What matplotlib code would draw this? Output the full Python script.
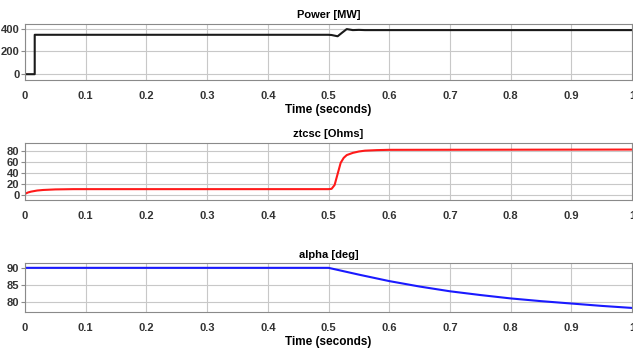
import matplotlib.pyplot as plt

plt.rcParams['font.family'] = ['Liberation Sans Narrow', 'Liberation Sans', 'DejaVu Sans']

# Power [MW]
t_power = [0, 0.016, 0.016, 0.5, 0.505, 0.515, 0.522, 0.53, 0.54, 0.55, 0.56, 1.0]
power = [0, 0, 345, 345, 343, 332, 362, 395, 386, 388, 386, 386]

# ztcsc [Ohms]
t_z = [0, 0.005, 0.01, 0.02, 0.03, 0.05, 0.08, 0.5, 0.505, 0.51, 0.515, 0.52,
       0.525, 0.53, 0.54, 0.55, 0.56, 0.58, 0.6, 1.0]
ztcsc = [2, 4.5, 6, 8, 9, 10, 10.5, 10.5, 11, 18, 38, 58,
         67, 72, 76, 78.5, 80, 81, 81.5, 82]

# alpha [deg]
t_alpha = [0, 0.5, 0.55, 0.6, 0.65, 0.7, 0.75, 0.8, 0.85, 0.9, 0.95, 1.0]
alpha = [90, 90, 88, 86.1, 84.5, 83.1, 82, 81, 80.2, 79.5, 78.8, 78.2]

xticks = [0, 0.1, 0.2, 0.3, 0.4, 0.5, 0.6, 0.7, 0.8, 0.9, 1]
xticklabels = ['0', '0.1', '0.2', '0.3', '0.4', '0.5', '0.6', '0.7', '0.8', '0.9', '1']

fig = plt.figure(figsize=(6.33, 3.52), dpi=100)
ax1 = fig.add_axes([0.0395, 0.773, 0.959, 0.159])
ax2 = fig.add_axes([0.0395, 0.432, 0.959, 0.162])
ax3 = fig.add_axes([0.0395, 0.1136, 0.959, 0.139])


def style(ax, title, yticks, ylim, xlabel):
    ax.set_xlim(0, 1)
    ax.set_ylim(*ylim)
    ax.set_xticks(xticks)
    ax.set_xticklabels(xticklabels)
    ax.set_yticks(yticks)
    ax.grid(True, color='#c8c8c8', linewidth=0.8)
    ax.set_axisbelow(True)
    for s in ax.spines.values():
        s.set_color('#8a8a8a')
        s.set_linewidth(0.8)
    ax.tick_params(axis='x', length=0, pad=8, labelsize=8)
    ax.tick_params(axis='y', length=3, pad=1, labelsize=8, color='#8a8a8a')
    for lab in ax.get_xticklabels() + ax.get_yticklabels():
        lab.set_fontweight('bold')
        lab.set_color('#333333')
    ax.set_title(title, fontsize=8, fontweight='bold', pad=4)
    if xlabel:
        ax.set_xlabel('Time (seconds)', fontsize=8.5, fontweight='bold', labelpad=2)


ax1.plot(t_power, power, color='#1a1a1a', linewidth=1.5)
style(ax1, 'Power [MW]', [0, 200, 400], (-50, 440), True)

ax2.plot(t_z, ztcsc, color='#ff1a1a', linewidth=1.5)
style(ax2, 'ztcsc [Ohms]', [0, 20, 40, 60, 80], (-9, 94), False)

ax3.plot(t_alpha, alpha, color='#1a1aff', linewidth=1.5)
style(ax3, 'alpha [deg]', [80, 85, 90], (77, 91.4), True)

fig.savefig('out.png', dpi=100)
